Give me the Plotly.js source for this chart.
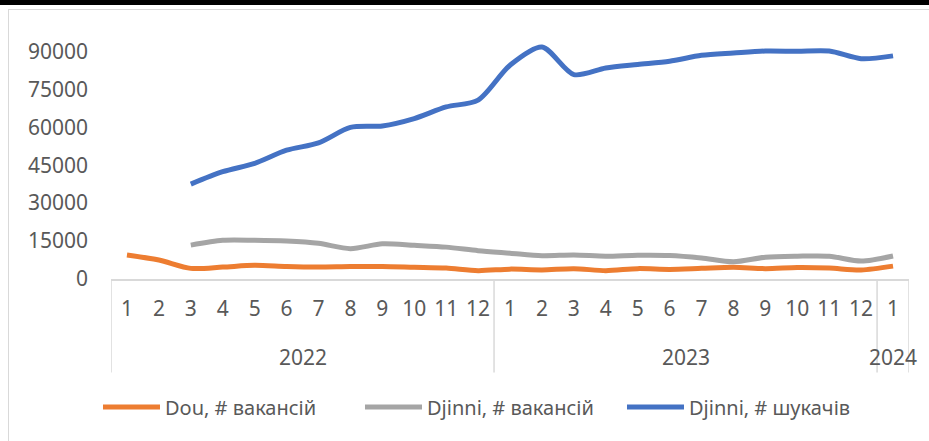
<!DOCTYPE html>
<html>
<head>
<meta charset="utf-8">
<script src="https://cdn.plot.ly/plotly-3.0.1.min.js"></script>
<style>
  html, body { margin: 0; padding: 0; background: #ffffff; }
  #wrap { position: relative; width: 929px; height: 441px; overflow: hidden; background: #ffffff; }
  #topbar { position: absolute; left: 0; top: 0; width: 929px; height: 5px; background: #000000; z-index: 3; }
  #frame { position: absolute; left: 8px; top: 9px; width: 940px; height: 460px; border: 1.5px solid #d9d9d9; box-sizing: border-box; z-index: 2; pointer-events: none; }
  #chart { position: absolute; left: 0; top: 0; width: 929px; height: 441px; z-index: 1; }
</style>
</head>
<body>
<div id="wrap">
  <div id="chart"></div>
  <div id="frame"></div>
  <div id="topbar"></div>
</div>
<script>
// Categories
const years = ["2022","2022","2022","2022","2022","2022","2022","2022","2022","2022","2022","2022",
               "2023","2023","2023","2023","2023","2023","2023","2023","2023","2023","2023","2023",
               "2024"];
const months = ["1","2","3","4","5","6","7","8","9","10","11","12",
                "1","2","3","4","5","6","7","8","9","10","11","12",
                "1"];

// Series
const douVacancies = [9500, 7500, 4200, 4700, 5400, 4900, 4700, 4900, 4900, 4600, 4300, 3300,
                      3900, 3600, 4100, 3300, 4100, 3800, 4200, 4600, 4100, 4500, 4300, 3600,
                      5100];
const djinniVacancies = [null, null, 13400, 15300, 15300, 15000, 14100, 12000, 13900, 13300, 12600, 11200,
                         10200, 9200, 9500, 9000, 9400, 9300, 8300, 6800, 8600, 9000, 9000, 7100,
                         9100];
const djinniCandidates = [null, null, 37500, 42400, 45700, 50900, 53800, 59900, 60500, 63400, 68000, 70700,
                          84500, 91700, 80800, 83400, 84800, 86100, 88400, 89300, 90100, 90000, 90100, 87100,
                          88200];

const seriesNames = ["Dou, # вакансій", "Djinni, # вакансій", "Djinni, # шукачів"];
const yTicks = [0, 15000, 30000, 45000, 60000, 75000, 90000];

// category keys built from years + months
const xKeys = years.map((y, i) => y + "-" + months[i]);
const colors = ["#ED7D31", "#A5A5A5", "#4472C4"];
const allSeries = [douVacancies, djinniVacancies, djinniCandidates];

const traces = allSeries.map((vals, i) => ({
  type: "scatter",
  mode: "lines",
  x: xKeys,
  y: vals,
  name: seriesNames[i],
  connectgaps: false,
  line: { color: colors[i], width: 5, shape: "spline", smoothing: 0.8 },
  hoverinfo: "skip"
}));

// year groups: first/last index of each year
const groups = [];
years.forEach((y, i) => {
  const g = groups[groups.length - 1];
  if (g && g.year === y) g.last = i; else groups.push({ year: y, first: i, last: i });
});

const divColor = "#d9d9d9";
const divBottom = -0.37;
const shapes = [];
groups.forEach(g => {
  shapes.push({ type: "line", xref: "x", yref: "paper", x0: g.first - 0.5, x1: g.first - 0.5, y0: 0, y1: divBottom,
                line: { color: divColor, width: 1.5 } });
});
const lastG = groups[groups.length - 1];
shapes.push({ type: "line", xref: "x", yref: "paper", x0: lastG.last + 0.5, x1: lastG.last + 0.5, y0: 0, y1: divBottom,
              line: { color: divColor, width: 1.5 } });

const annotations = groups.map(g => ({
  xref: "x", yref: "paper",
  x: (g.first + g.last) / 2, y: -0.308,
  yanchor: "middle", xanchor: "center",
  text: g.year, showarrow: false,
  font: { family: "Noto Sans, Open Sans, sans-serif", size: 21, color: "#595959" }
}));

const font = { family: "Noto Sans, Open Sans, sans-serif", size: 21, color: "#595959" };

const layout = {
  width: 929,
  height: 441,
  margin: { l: 111, r: 20, t: 26, b: 162, autoexpand: false },
  paper_bgcolor: "#ffffff",
  plot_bgcolor: "#ffffff",
  font: font,
  showlegend: true,
  legend: {
    orientation: "h",
    x: -0.0163,
    xanchor: "left",
    y: -0.506,
    yanchor: "middle",
    font: { family: "Noto Sans, Open Sans, sans-serif", size: 20, color: "#595959" },
    itemwidth: 57,
    entrywidth: 190,
    traceorder: "normal"
  },
  xaxis: {
    type: "category",
    range: [-0.5, 24.5],
    tickvals: xKeys,
    ticktext: months,
    showgrid: false,
    zeroline: false,
    showline: true,
    linecolor: divColor,
    linewidth: 1.5,
    ticks: "",
    tickfont: font,
    tickangle: 0,
    ticklabelstandoff: 10
  },
  yaxis: {
    range: [0, 100000],
    tickvals: yTicks,
    ticktext: yTicks.map(String),
    showgrid: false,
    zeroline: false,
    showline: false,
    ticks: "",
    tickfont: font,
    ticklabelstandoff: 22
  },
  shapes: shapes,
  annotations: annotations
};

Plotly.newPlot("chart", traces, layout, { staticPlot: true, displayModeBar: false });
</script>
</body>
</html>
